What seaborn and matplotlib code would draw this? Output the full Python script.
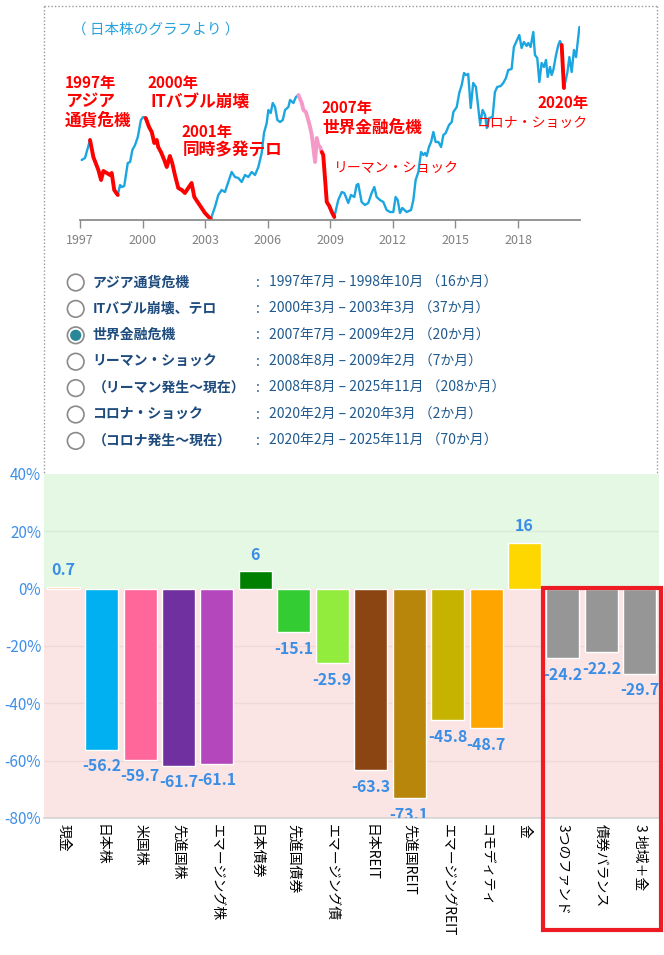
import pandas as pd
import seaborn as sns
import matplotlib.pyplot as plt
from matplotlib.patches import Circle, Rectangle
from matplotlib.lines import Line2D

W, H = 664, 955

# 日本株のグラフ（グラフから読み取った値・相対指数）
years = [1997.08, 1997.24, 1997.48, 1997.64, 1997.88, 1998.01, 1998.12, 1998.28, 1998.44, 1998.52, 1998.64,
         1998.81, 1998.92, 1999.00, 1999.12, 1999.29, 1999.40, 1999.51, 1999.64, 1999.77, 1999.92,
         2000.03, 2000.15, 2000.31, 2000.44, 2000.56, 2000.68, 2000.75, 2000.88, 2001.04, 2001.16, 2001.31,
         2001.42, 2001.55, 2001.71, 2001.88, 2002.03, 2002.19, 2002.35, 2002.48, 2002.67, 2002.83, 2002.99,
         2003.17, 2003.27, 2003.47, 2003.63, 2003.79, 2003.95, 2004.11, 2004.27, 2004.43, 2004.59, 2004.75,
         2004.91, 2005.07, 2005.23, 2005.39, 2005.55, 2005.71, 2005.82, 2005.95,
         2006.03, 2006.14, 2006.24, 2006.35, 2006.46, 2006.59, 2006.72, 2006.83, 2006.99, 2007.07, 2007.23,
         2007.35, 2007.47, 2007.63, 2007.71, 2007.83, 2007.94, 2008.03, 2008.11, 2008.18, 2008.27, 2008.35,
         2008.42, 2008.51, 2008.59, 2008.66, 2008.74, 2008.83, 2008.95,
         2009.07, 2009.19, 2009.38, 2009.55, 2009.67, 2009.86, 2009.99, 2010.15, 2010.26, 2010.34, 2010.50,
         2010.66, 2010.82, 2010.98, 2011.11, 2011.22, 2011.38, 2011.54, 2011.70, 2011.86,
         2012.02, 2012.13, 2012.23, 2012.34, 2012.45, 2012.66, 2012.87, 2012.98, 2013.09, 2013.22, 2013.35,
         2013.46, 2013.54, 2013.62, 2013.73, 2013.83, 2013.94, 2014.05, 2014.18, 2014.31, 2014.42, 2014.53,
         2014.69, 2014.82, 2014.90,
         2015.06, 2015.18, 2015.30, 2015.41, 2015.50, 2015.61, 2015.73, 2015.85, 2015.98, 2016.09, 2016.18,
         2016.30, 2016.42, 2016.50, 2016.62, 2016.78, 2016.89, 2017.00, 2017.17, 2017.29, 2017.42, 2017.53,
         2017.69, 2017.80, 2017.93,
         2018.06, 2018.17, 2018.28, 2018.41, 2018.49, 2018.60, 2018.73, 2018.81, 2018.92, 2019.02, 2019.13,
         2019.24, 2019.34, 2019.42, 2019.53, 2019.61, 2019.69, 2019.82, 2019.93, 2020.01, 2020.09, 2020.20,
         2020.36, 2020.46, 2020.57, 2020.68, 2020.78, 2020.94]
index_vals = [62, 64, 82, 65, 52, 42, 51, 49, 47, 49, 32,
              27, 37, 35, 36, 59, 60, 72, 77, 85, 102,
              105, 104, 95, 90, 79, 82, 75, 70, 62, 55, 66,
              59, 47, 34, 32, 29, 34, 39, 25, 19, 14, 9,
              5, 3, 15, 27, 32, 30, 40, 50, 45, 44, 40,
              47, 45, 50, 47, 55, 69, 89, 99,
              112, 109, 119, 115, 102, 100, 102, 112, 115, 122, 119,
              125, 127, 119, 112, 110, 102, 95, 87, 75, 60, 84,
              77, 75, 70, 67, 45, 20, 16,
              10, 5, 22, 30, 29, 19, 27, 25, 37, 38, 20,
              17, 19, 29, 35, 25, 22, 20, 12, 10,
              10, 25, 22, 9, 14, 10, 12, 22, 42, 50, 70,
              67, 69, 66, 75, 80, 90, 80, 80, 75, 87, 89,
              97, 100, 110,
              115, 129, 137, 149, 147, 148, 114, 139, 135, 115, 98,
              112, 107, 94, 104, 105, 130, 135, 136, 139, 144, 152,
              153, 175, 181,
              187, 174, 180, 176, 179, 175, 190, 167, 164, 140, 159,
              155, 162, 145, 155, 147, 152, 167, 177, 181, 177, 134,
              149, 165, 150, 172, 165, 195]

# 強調する期間（開始, 終了, 色）
periods = [(1997.45, 1998.85, "#ff0000"),
           (2000.10, 2003.30, "#ff0000"),
           (2007.45, 2008.60, "#f59ac8"),
           (2008.58, 2009.20, "#ff0000"),
           (2020.05, 2020.25, "#ff0000")]
year_ticks = [1997, 2000, 2003, 2006, 2009, 2012, 2015, 2018]

# 期間の選択肢
choices = ["アジア通貨危機", "ITバブル崩壊、テロ", "世界金融危機", "リーマン・ショック",
           "（リーマン発生～現在）", "コロナ・ショック", "（コロナ発生～現在）"]
choice_dates = ["1997年7月 – 1998年10月 （16か月）", "2000年3月 – 2003年3月 （37か月）",
                "2007年7月 – 2009年2月 （20か月）", "2008年8月 – 2009年2月 （7か月）",
                "2008年8月 – 2025年11月 （208か月）", "2020年2月 – 2020年3月 （2か月）",
                "2020年2月 – 2025年11月 （70か月）"]
selected = 2

# 資産クラス別の騰落率（%）
assets = ["現金", "日本株", "米国株", "先進国株", "エマージング株", "日本債券", "先進国債券", "エマージング債",
          "日本REIT", "先進国REIT", "エマージングREIT", "コモディティ", "金",
          "3つのファンド", "債券バランス", "3 地域＋金"]
returns = [0.7, -56.2, -59.7, -61.7, -61.1, 6, -15.1, -25.9, -63.3, -73.1, -45.8, -48.7, 16, -24.2, -22.2, -29.7]
colors = ["#ffc9a6", "#00b0f0", "#ff6699", "#7030a0", "#b347bb", "#008000", "#33cc33", "#92ec3e",
          "#8b4513", "#b8860b", "#c6b300", "#ffa500", "#ffd700", "#969696", "#969696", "#969696"]
y_ticks = [40, 20, 0, -20, -40, -60, -80]

sns.set_theme(style="white")
plt.rcParams["font.family"] = ["Noto Sans CJK JP", "DejaVu Sans"]

fig = plt.figure(figsize=(W / 100, H / 100), dpi=100)


def box(x0, y0, x1, y1):
    return [x0 / W, 1 - y1 / H, (x1 - x0) / W, (y1 - y0) / H]


# --- 上段：日本株の推移 ---
ax1 = fig.add_axes(box(80, 20, 580, 220))
df = pd.DataFrame({"年": years, "指数": index_vals})
sns.lineplot(data=df, x="年", y="指数", color="#1ba6e0", linewidth=1.7, ax=ax1)
for start, end, c in periods:
    part = df[(df["年"] >= start) & (df["年"] <= end)]
    sns.lineplot(data=part, x="年", y="指数", color=c, linewidth=2.8, ax=ax1)
ax1.set_xlim(1997, 1997 + 500 / 20.86)
ax1.set_ylim(2, 202)
ax1.set_xlabel("")
ax1.set_ylabel("")
ax1.set_yticks([])
ax1.set_xticks(year_ticks)
ax1.set_xticklabels([str(y) for y in year_ticks])
ax1.tick_params(axis="x", bottom=True, length=6, width=1, color="#8c8c8c",
                labelcolor="#808080", labelsize=9, pad=4)
for s in ["left", "top", "right"]:
    ax1.spines[s].set_visible(False)
ax1.spines["bottom"].set_color("#8c8c8c")
ax1.spines["bottom"].set_linewidth(1.3)
ax1.patch.set_alpha(0)

# --- 下段：騰落率の棒グラフ ---
ax2 = fig.add_axes(box(44, 474, 659, 818))
ax2.axhspan(0, 40, color="#e4f8e4", zorder=0)
ax2.axhspan(-80, 0, color="#fbe4e4", zorder=0)
for v in [20, -20, -40, -60]:
    ax2.axhline(v, color="black", alpha=0.05, linewidth=1, zorder=0.5)
sns.barplot(x=assets, y=returns, hue=assets, palette=colors, legend=False,
            width=0.86, saturation=1, ax=ax2, zorder=2)
ax2.set_ylim(-80, 40)
ax2.set_yticks(y_ticks)
ax2.set_yticklabels([f"{v}%" for v in y_ticks])
ax2.tick_params(axis="y", length=0, labelcolor="#3f8fe9", labelsize=11, pad=2)
ax2.set_xticks(range(len(assets)))
ax2.set_xticklabels(assets, rotation=-90, ha="center", va="top", fontsize=10, color="black")
ax2.tick_params(axis="x", length=0, pad=4)
for s in ["left", "top", "right"]:
    ax2.spines[s].set_visible(False)
ax2.spines["bottom"].set_color("#d4d4d4")
ax2.spines["bottom"].set_linewidth(1.2)
for i, v in enumerate(returns):
    ax2.annotate(f"{v:g}", (i, v), xytext=(0, 12 if v >= 0 else -12), textcoords="offset points",
                 ha="center", va="center", color="#3a8ee6", fontsize=11.5, fontweight="bold",
                 clip_on=True)

# --- 重ね書き（注記・選択肢・枠） ---
ov = fig.add_axes([0, 0, 1, 1], zorder=10)
ov.set_xlim(0, W)
ov.set_ylim(H, 0)
ov.axis("off")

dot = dict(color="#9a9a9a", linestyle=(0, (1, 1.5)), linewidth=1)
ov.add_line(Line2D([44, 44], [6, 474], **dot))
ov.add_line(Line2D([44, 657], [6, 6], **dot))
ov.add_line(Line2D([657, 657], [6, 474], **dot))

ov.text(72, 30, "（ 日本株のグラフより ）", color="#29a3dd", fontsize=10.5, va="center", ha="left")

red = dict(color="#ff0000", fontweight="bold", va="center", ha="left")
ov.text(65, 83, "1997年", fontsize=11, **red)
ov.text(65, 101, "アジア", fontsize=12, **red)
ov.text(65, 120, "通貨危機", fontsize=12, **red)
ov.text(148, 83, "2000年", fontsize=11, **red)
ov.text(150, 103, "ITバブル崩壊", fontsize=12, **red)
ov.text(182, 132, "2001年", fontsize=11, **red)
ov.text(183, 150, "同時多発テロ", fontsize=12, **red)
ov.text(322, 108, "2007年", fontsize=11, **red)
ov.text(322, 128, "世界金融危機", fontsize=12, **red)
ov.text(334, 168, "リーマン・ショック", fontsize=10, color="#ff0000", va="center", ha="left")
ov.text(588, 103, "2020年", fontsize=11, color="#ff0000", fontweight="bold", va="center", ha="right")
ov.text(588, 123, "コロナ・ショック", fontsize=10, color="#ff0000", va="center", ha="right")

for k, (name, dates) in enumerate(zip(choices, choice_dates)):
    yy = 282.5 + k * 26.4
    ov.add_patch(Circle((75.7, yy), 8.3, facecolor="white", edgecolor="#8a8a8a", linewidth=1.2))
    if k == selected:
        ov.add_patch(Circle((75.7, yy), 5.6, facecolor="#2a8797", edgecolor="none"))
    ov.text(92.5, yy, name, fontsize=10, fontweight="bold", color="#1d4b7d", va="center", ha="left")
    ov.text(256, yy, ":", fontsize=10, color="#205a8e", va="center", ha="left")
    ov.text(269, yy, dates, fontsize=10, color="#205a8e", va="center", ha="left")

ov.add_patch(Rectangle((543, 587.5), 118, 342.5, fill=False, edgecolor="#ed1c24", linewidth=3))

fig.savefig("out.png", dpi=100)
